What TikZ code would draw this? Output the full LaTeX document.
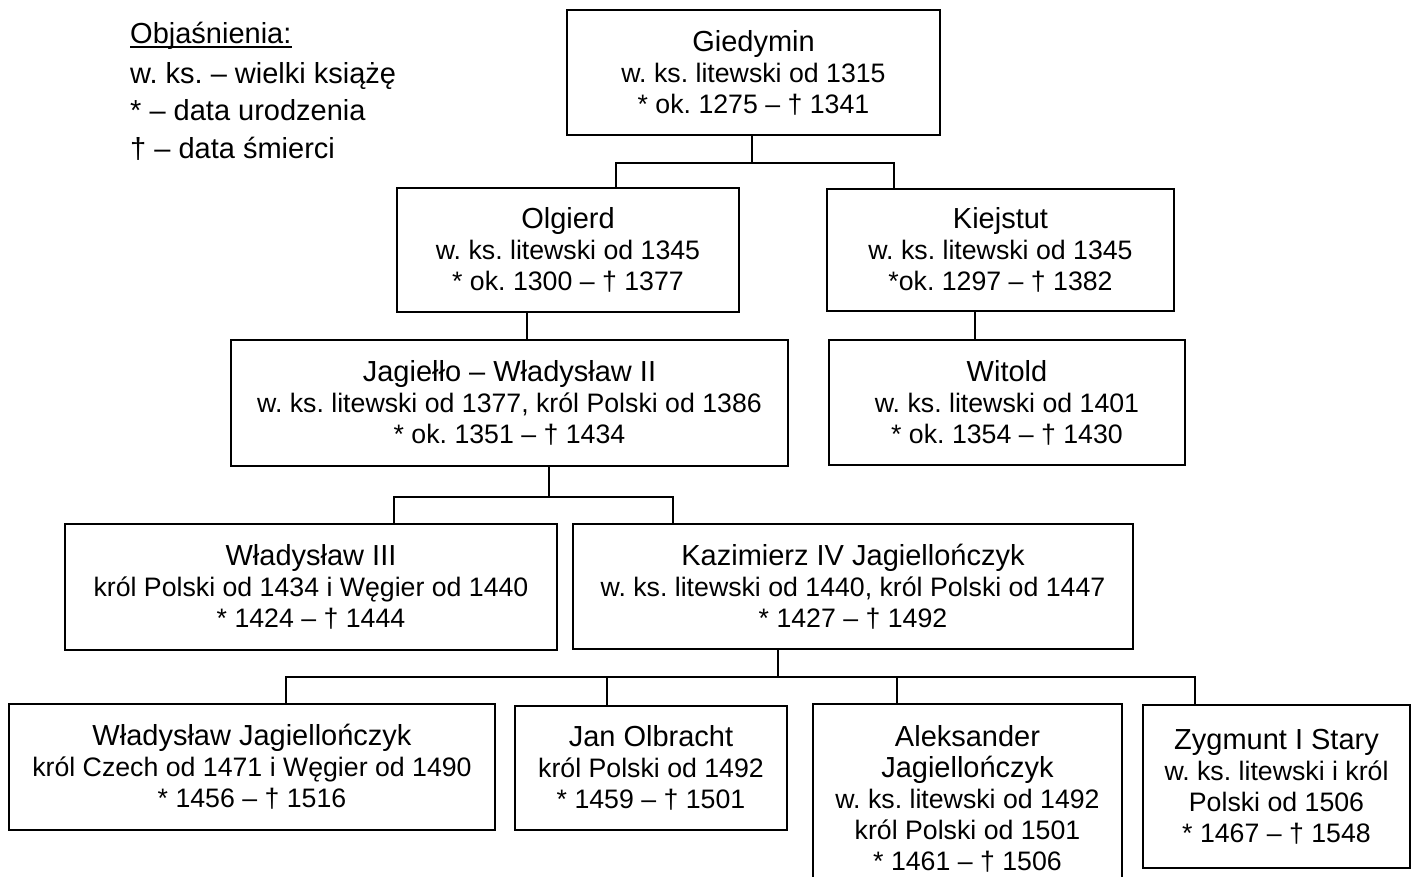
\documentclass[tikz,border=0pt]{standalone}
\usepackage{fontspec}
\setmainfont{Liberation Sans}
\frenchspacing
\newcommand\nmfont{\fontsize{29}{31}\selectfont}
\newcommand\dtfont{\fontsize{26.7}{31}\selectfont}
\newcommand\lgfont{\fontsize{29}{31}\selectfont}
\begin{document}
\frenchspacing
\begin{tikzpicture}[x=1pt,y=-1pt,
  box/.style={draw, line width=1.6pt, inner sep=0pt, align=center, font=\dtfont\frenchspacing},
  sz/.style 2 args={minimum width=#1pt, minimum height=#2pt},
  conn/.style={line width=1.4pt},
  legend/.style={anchor=base west, inner sep=0pt, font=\lgfont\frenchspacing}]
\useasboundingbox (0,0) rectangle (1413,876);

% legend
\node[legend] (leg0) at (130,43) {Objaśnienia:};
\draw[line width=1.5pt] ([yshift=-4pt]leg0.base west) -- ([yshift=-4pt]leg0.base east);
\node[legend] (leg1) at (130,83) {w. ks. – wielki książę};
\node[legend] (leg2) at (130,120) {* – data urodzenia};
\node[legend] (leg3) at (130,158) {† – data śmierci};

% boxes
\node[box, sz={373}{125}] (gied) at (753.5,72.5) {{\nmfont Giedymin}\\w. ks. litewski od 1315\\* ok. 1275 – † 1341};
\node[box, sz={342}{124}] (olg) at (568,250) {{\nmfont Olgierd}\\w. ks. litewski od 1345\\* ok. 1300 – † 1377};
\node[box, sz={347}{122}] (kie) at (1000.5,250) {{\nmfont Kiejstut}\\w. ks. litewski od 1345\\*ok. 1297 – † 1382};
\node[box, sz={557}{126}] (jag) at (509.5,403) {{\nmfont Jagiełło – Władysław II}\\w. ks. litewski od 1377, król Polski od 1386\\* ok. 1351 – † 1434};
\node[box, sz={356}{125}] (wit) at (1007,402.5) {{\nmfont Witold}\\w. ks. litewski od 1401\\* ok. 1354 – † 1430};
\node[box, sz={492}{126}] (w3) at (311,587) {{\nmfont Władysław III}\\król Polski od 1434 i Węgier od 1440\\* 1424 – † 1444};
\node[box, sz={560}{125}] (kaz) at (853,586.5) {{\nmfont Kazimierz IV Jagiellończyk}\\w. ks. litewski od 1440, król Polski od 1447\\* 1427 – † 1492};
\node[box, sz={486}{126}] (wj) at (252,767) {{\nmfont Władysław Jagiellończyk}\\król Czech od 1471 i Węgier od 1490\\* 1456 – † 1516};
\node[box, sz={272}{124}] (jo) at (651,768) {{\nmfont Jan Olbracht}\\król Polski od 1492\\* 1459 – † 1501};
\node[box, draw=none, sz={307}{171}] (al) at (967.5,790.5) {};
\draw[line width=1.6pt] (al.south west) -- (al.north west) -- (al.north east) -- (al.south east);
\node[box, draw=none] (alt) at (967.5,799) {{\nmfont Aleksander}\\{\nmfont Jagiellończyk}\\w. ks. litewski od 1492\\król Polski od 1501\\* 1461 – † 1506};
\node[box, sz={267}{163}] (zyg) at (1276.5,786.5) {{\nmfont Zygmunt I Stary}\\w. ks. litewski i król\\Polski od 1506\\* 1467 – † 1548};

% connectors
\coordinate (j1) at (752,163);
\coordinate (d1) at (616,163);
\coordinate (d2) at (894,163);
\draw[conn] (j1 |- gied.south) -- (j1);
\draw[conn] (d1 |- olg.north) -- (d1) -- (d2) -- (d2 |- kie.north);

\coordinate (c1) at (527,326);
\draw[conn] (c1 |- olg.south) -- (c1 |- jag.north);
\coordinate (c2) at (975,326);
\draw[conn] (c2 |- kie.south) -- (c2 |- wit.north);

\coordinate (j2) at (549,497);
\coordinate (d3) at (394,497);
\coordinate (d4) at (673,497);
\draw[conn] (j2 |- jag.south) -- (j2);
\draw[conn] (d3 |- w3.north) -- (d3) -- (d4) -- (d4 |- kaz.north);

\coordinate (j3) at (778,677);
\coordinate (d5) at (286,677);
\coordinate (d6) at (607,677);
\coordinate (d7) at (897,677);
\coordinate (d8) at (1195,677);
\draw[conn] (j3 |- kaz.south) -- (j3);
\draw[conn] (d5 |- wj.north) -- (d5) -- (d8) -- (d8 |- zyg.north);
\draw[conn] (d6) -- (d6 |- jo.north);
\draw[conn] (d7) -- (d7 |- al.north);
\end{tikzpicture}
\end{document}
